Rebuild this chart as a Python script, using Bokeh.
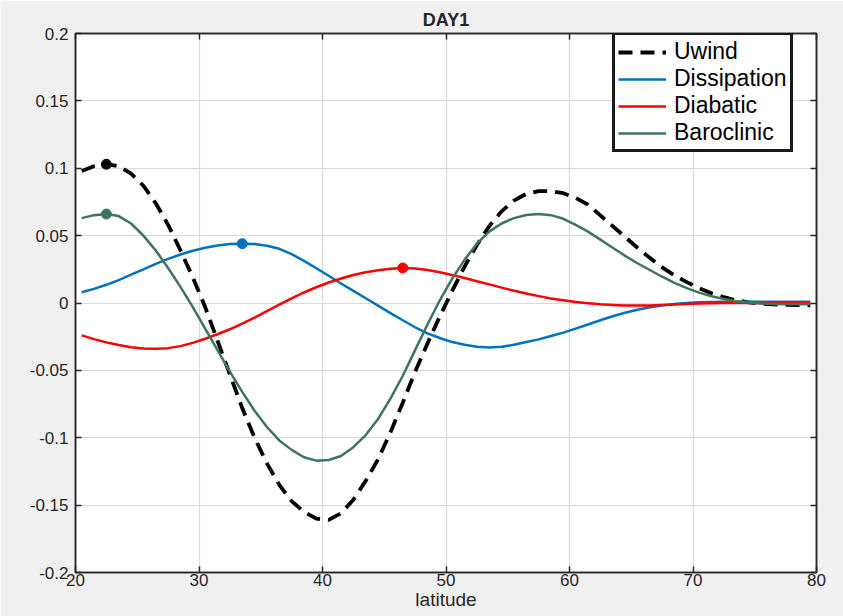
import numpy as np
from bokeh.plotting import figure
from bokeh.models import (ColumnDataSource, Legend, LegendItem, LinearAxis, FixedTicker,
                          CustomJSTickFormatter, Range1d)
from bokeh.embed import file_html
from bokeh.resources import INLINE

# ---------------- data ----------------
lat = [20.5 + i for i in range(60)]

uwind = [0.098, 0.1015, 0.103, 0.1015, 0.096, 0.087, 0.074, 0.058, 0.039, 0.019,
         -0.003, -0.028, -0.053, -0.078, -0.100, -0.119, -0.135, -0.147, -0.155, -0.160,
         -0.161, -0.156, -0.146, -0.132, -0.116, -0.096, -0.074, -0.051, -0.030, -0.010,
         0.009, 0.027, 0.043, 0.057, 0.068, 0.076, 0.081, 0.083, 0.083, 0.0815,
         0.078, 0.073, 0.065, 0.057, 0.049, 0.041, 0.0335, 0.0265, 0.0205, 0.0155,
         0.011, 0.0072, 0.0043, 0.002, 0.0005, -0.0005, -0.001, -0.0013, -0.0016, -0.0018]

dissipation = [0.008, 0.0105, 0.0135, 0.017, 0.021, 0.025, 0.029, 0.0327, 0.036, 0.0388,
               0.041, 0.0427, 0.0437, 0.044, 0.0437, 0.0425, 0.0402, 0.0363, 0.0313, 0.0258,
               0.0202, 0.0145, 0.009, 0.0035, -0.002, -0.0075, -0.0128, -0.018, -0.0225, -0.026,
               -0.029, -0.031, -0.0325, -0.033, -0.0325, -0.031, -0.029, -0.027, -0.0245, -0.022,
               -0.019, -0.016, -0.0128, -0.0098, -0.0072, -0.005, -0.0032, -0.0018, -0.0008, 0.0,
               0.0005, 0.0008, 0.001, 0.001, 0.001, 0.001, 0.001, 0.001, 0.001, 0.001]

diabatic = [-0.024, -0.0268, -0.0292, -0.0312, -0.0328, -0.0337, -0.034, -0.0335, -0.032, -0.0296,
            -0.0265, -0.0232, -0.0195, -0.0153, -0.0108, -0.006, -0.0012, 0.0035, 0.0078, 0.0117,
            0.0152, 0.0182, 0.0208, 0.0228, 0.0243, 0.0254, 0.026, 0.0256, 0.0245, 0.0228,
            0.0208, 0.0186, 0.0162, 0.0138, 0.0114, 0.0091, 0.007, 0.0051, 0.0034, 0.002,
            0.0008, -0.0002, -0.001, -0.0015, -0.0018, -0.0019, -0.0018, -0.0015, -0.0011, -0.0007,
            -0.0004, -0.0002, 0.0, 0.0, 0.0, 0.0, 0.0, 0.0, 0.0, 0.0]

baroclinic = [0.063, 0.0652, 0.066, 0.0645, 0.059, 0.050, 0.039, 0.026, 0.012, -0.003,
              -0.019, -0.035, -0.051, -0.066, -0.080, -0.092, -0.102, -0.109, -0.1145, -0.117,
              -0.1165, -0.1135, -0.107, -0.098, -0.086, -0.071, -0.054, -0.035, -0.016, 0.002,
              0.018, 0.032, 0.044, 0.053, 0.059, 0.063, 0.0653, 0.066, 0.0652, 0.0625,
              0.058, 0.053, 0.047, 0.041, 0.035, 0.0295, 0.0245, 0.0195, 0.015, 0.011,
              0.0077, 0.005, 0.003, 0.0013, 0.0003, -0.0004, -0.0008, -0.001, -0.001, -0.001]

series_names = ["Uwind", "Dissipation", "Diabatic", "Baroclinic"]
x_ticks = [20, 30, 40, 50, 60, 70, 80]
y_ticks = [-0.2, -0.15, -0.1, -0.05, 0, 0.05, 0.1, 0.15, 0.2]

# ---------------- figure ----------------
FONT = "Liberation Sans"
TXT = "#262626"

p = figure(width=843, height=616, output_backend="svg", toolbar_location=None,
           x_range=Range1d(20, 80), y_range=Range1d(-0.2, 0.2),
           min_border_left=75, min_border_right=27, min_border_top=33, min_border_bottom=44,
           background_fill_color="white", border_fill_color="#f0f0f0",
           outline_line_color=TXT, outline_line_width=1.5)

p.title.text = "DAY1"
p.title.align = "center"
p.title.text_font = FONT
p.title.text_font_size = "18px"
p.title.text_font_style = "bold"
p.title.text_color = TXT
p.title.offset = 0
p.title.standoff = 8

src = ColumnDataSource(dict(lat=lat, u=uwind, d=dissipation, a=diabatic, b=baroclinic))

colors = {"u": "black", "d": "#0072BD", "a": "#FF0000", "b": "#3f7558"}

r_u = p.line("lat", "u", source=src, line_color=colors["u"], line_width=3.8,
             line_dash="14 8", line_join="round")
r_d = p.line("lat", "d", source=src, line_color=colors["d"], line_width=2.5, line_join="round")
r_a = p.line("lat", "a", source=src, line_color=colors["a"], line_width=2.5, line_join="round")
r_b = p.line("lat", "b", source=src, line_color=colors["b"], line_width=2.5, line_join="round")

# markers at the maximum of each series
for key, arr in [("u", uwind), ("b", baroclinic), ("d", dissipation), ("a", diabatic)]:
    i = int(np.argmax(arr))
    p.scatter([lat[i]], [arr[i]], size=10, color=colors[key])

# axes
for ax in (p.xaxis[0], p.yaxis[0]):
    ax.axis_line_color = TXT
    ax.axis_line_width = 1.5
    ax.major_tick_in = 6
    ax.major_tick_out = 0
    ax.minor_tick_line_color = None
    ax.major_tick_line_color = TXT
    ax.major_tick_line_width = 1.5
    ax.major_label_text_font = FONT
    ax.major_label_text_font_size = "17px"
    ax.major_label_text_color = TXT

p.xaxis[0].ticker = FixedTicker(ticks=x_ticks)
p.yaxis[0].ticker = FixedTicker(ticks=y_ticks)
p.yaxis[0].formatter = CustomJSTickFormatter(code="return String(Number(tick.toFixed(2)));")
p.xaxis[0].major_label_standoff = 1
p.yaxis[0].major_label_standoff = 7
p.xaxis[0].axis_label = "latitude"
p.xaxis[0].axis_label_text_font = FONT
p.xaxis[0].axis_label_text_font_size = "19px"
p.xaxis[0].axis_label_text_font_style = "normal"
p.xaxis[0].axis_label_text_color = TXT
p.xaxis[0].axis_label_standoff = 0

# box ticks on top and right (no labels)
top = LinearAxis(ticker=FixedTicker(ticks=x_ticks),
                 formatter=CustomJSTickFormatter(code="return '';"))
right = LinearAxis(ticker=FixedTicker(ticks=y_ticks),
                   formatter=CustomJSTickFormatter(code="return '';"))
for ax in (top, right):
    ax.axis_line_color = TXT
    ax.axis_line_width = 1.5
    ax.major_tick_in = 6
    ax.major_tick_out = 0
    ax.major_tick_line_color = TXT
    ax.major_tick_line_width = 1.5
    ax.minor_tick_line_color = None
    ax.major_label_text_font_size = "8px"
    ax.major_label_standoff = 0
p.add_layout(top, "above")
p.add_layout(right, "right")

p.xgrid.ticker = FixedTicker(ticks=x_ticks)
p.ygrid.ticker = FixedTicker(ticks=y_ticks)
p.grid.grid_line_color = "#d9d9d9"
p.grid.grid_line_width = 1.2

legend = Legend(items=[LegendItem(label=n, renderers=[r]) for n, r in
                       zip(series_names, [r_u, r_d, r_a, r_b])],
                location=(537, 420))
legend.label_text_font = FONT
legend.label_text_font_size = "23px"
legend.label_text_color = "black"
legend.glyph_width = 48
legend.glyph_height = 24
legend.label_height = 24
legend.label_standoff = 8
legend.spacing = 0
legend.padding = 3
legend.margin = 0
legend.border_line_color = "#1a1a1a"
legend.border_line_width = 3
legend.border_line_alpha = 1
legend.background_fill_color = "white"
legend.background_fill_alpha = 1
p.add_layout(legend, "center")

open("out.html", "w").write(file_html(p, INLINE))
